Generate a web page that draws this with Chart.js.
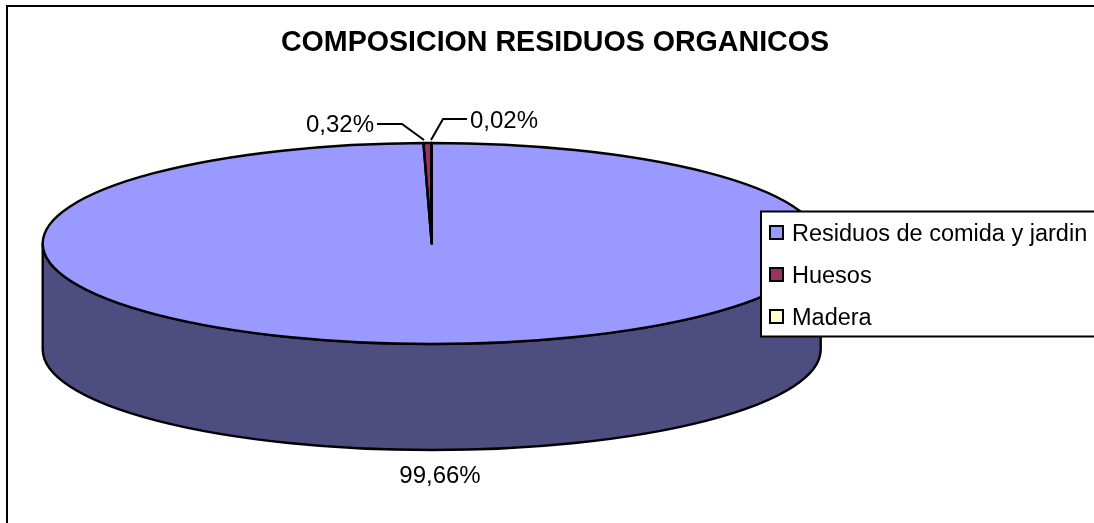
<!DOCTYPE html>
<html>
<head>
<meta charset="utf-8">
<title>Composicion residuos organicos</title>
<script src="https://cdn.jsdelivr.net/npm/chart.js@4/dist/chart.umd.min.js"></script>
<style>
  html, body { margin: 0; padding: 0; background: #fff; overflow: hidden; }
  canvas { display: block; }
</style>
</head>
<body>
<canvas id="pie-chart" width="1094" height="523"></canvas>
<script>
// Chart data
const categories = ["Residuos de comida y jardin", "Huesos", "Madera"];
const percentages = [99.66, 0.32, 0.02];
const sliceColors = ["#9999FF", "#993366", "#FFFFCC"];
const wallColors = ["#4D4D80", "#4D1A33", "#808066"];

const FONT = '"Liberation Sans", Arial, sans-serif';

// Shape of the tilted pie on the page
const pie = { cx: 431.7, cy: 243.5, rx: 389, ry: 100.5, depth: 106 };

// Where each percentage label goes, with its leader line if any
const labelSpots = [
  { x: 440, y: 476, align: "center" },
  { x: 374, y: 125, align: "right", leader: [[377, 124], [402, 124], [424, 140]] },
  { x: 470, y: 121, align: "left", leader: [[467, 119], [443, 119], [431, 140]] },
];

function formatPercent(value) {
  return value.toFixed(2).replace(".", ",") + "%";
}

// Squash the round pie into an ellipse and draw the side wall under it
const tiltPlugin = {
  id: "tilt",
  beforeDatasetsDraw(chart) {
    const { ctx } = chart;
    const arcs = chart.getDatasetMeta(0).data;

    ctx.save();
    ctx.lineWidth = 2.4;
    ctx.strokeStyle = "#000";
    ctx.lineJoin = "round";
    arcs.forEach((arc, i) => {
      const a0 = Math.max(arc.startAngle, 0);
      const a1 = Math.min(arc.endAngle, Math.PI);
      if (a1 <= a0) return;
      ctx.beginPath();
      ctx.ellipse(pie.cx, pie.cy, pie.rx, pie.ry, 0, a0, a1);
      ctx.ellipse(pie.cx, pie.cy + pie.depth, pie.rx, pie.ry, 0, a1, a0, true);
      ctx.closePath();
      ctx.fillStyle = wallColors[i];
      ctx.fill();
      ctx.stroke();
    });
    ctx.restore();

    const { x, y, outerRadius } = arcs[0];
    ctx.save();
    ctx.translate(pie.cx, pie.cy);
    ctx.scale(pie.rx / outerRadius, pie.ry / outerRadius);
    ctx.translate(-x, -y);
  },
  afterDatasetsDraw(chart) {
    const { ctx } = chart;
    ctx.restore();

    // Slice outlines are stroked outside the squash so the line stays even
    ctx.save();
    ctx.lineWidth = 2.4;
    ctx.strokeStyle = "#000";
    ctx.lineJoin = "round";
    chart.getDatasetMeta(0).data.forEach((arc) => {
      ctx.beginPath();
      ctx.moveTo(pie.cx, pie.cy);
      ctx.ellipse(pie.cx, pie.cy, pie.rx, pie.ry, 0, arc.startAngle, arc.endAngle);
      ctx.closePath();
      ctx.stroke();
    });
    ctx.restore();
  },
};

// Outer frame, percentage labels and the legend box
const overlayPlugin = {
  id: "overlay",
  afterDraw(chart) {
    const { ctx } = chart;
    ctx.save();

    // Frame (only top and left are inside the picture)
    ctx.strokeStyle = "#000";
    ctx.lineWidth = 2;
    ctx.strokeRect(7, 6, 1200, 600);

    // Percentage labels
    ctx.fillStyle = "#000";
    ctx.font = "24px " + FONT;
    ctx.textBaseline = "middle";
    percentages.forEach((value, i) => {
      const spot = labelSpots[i];
      ctx.textAlign = spot.align;
      ctx.fillText(formatPercent(value), spot.x, spot.y);
      if (spot.leader) {
        ctx.beginPath();
        spot.leader.forEach(([px, py], k) => (k ? ctx.lineTo(px, py) : ctx.moveTo(px, py)));
        ctx.lineWidth = 2;
        ctx.stroke();
      }
    });

    // Legend
    ctx.fillStyle = "#fff";
    ctx.lineWidth = 2;
    ctx.fillRect(761, 211.5, 340, 125);
    ctx.strokeRect(761, 211.5, 340, 125);
    ctx.textAlign = "left";
    ctx.font = "23.5px " + FONT;
    categories.forEach((name, i) => {
      const rowY = 233 + i * 42;
      ctx.fillStyle = sliceColors[i];
      ctx.fillRect(770, rowY - 7, 13, 13);
      ctx.strokeRect(770, rowY - 7, 13, 13);
      ctx.fillStyle = "#000";
      ctx.fillText(name, 792, rowY + 1.5);
    });

    ctx.restore();
  },
};

// Create chart
new Chart(document.getElementById("pie-chart").getContext("2d"), {
  type: "pie",
  data: {
    labels: categories,
    datasets: [
      {
        data: percentages,
        backgroundColor: sliceColors,
        borderWidth: 0,
      },
    ],
  },
  options: {
    responsive: false,
    animation: false,
    layout: { padding: { left: 16 } },
    plugins: {
      legend: { display: false },
      tooltip: { enabled: false },
      title: {
        display: true,
        text: "COMPOSICION RESIDUOS ORGANICOS",
        color: "#000",
        font: { family: FONT, size: 28.6, weight: "bold" },
        padding: { top: 26, bottom: 10 },
      },
    },
  },
  plugins: [tiltPlugin, overlayPlugin],
});
</script>
</body>
</html>
